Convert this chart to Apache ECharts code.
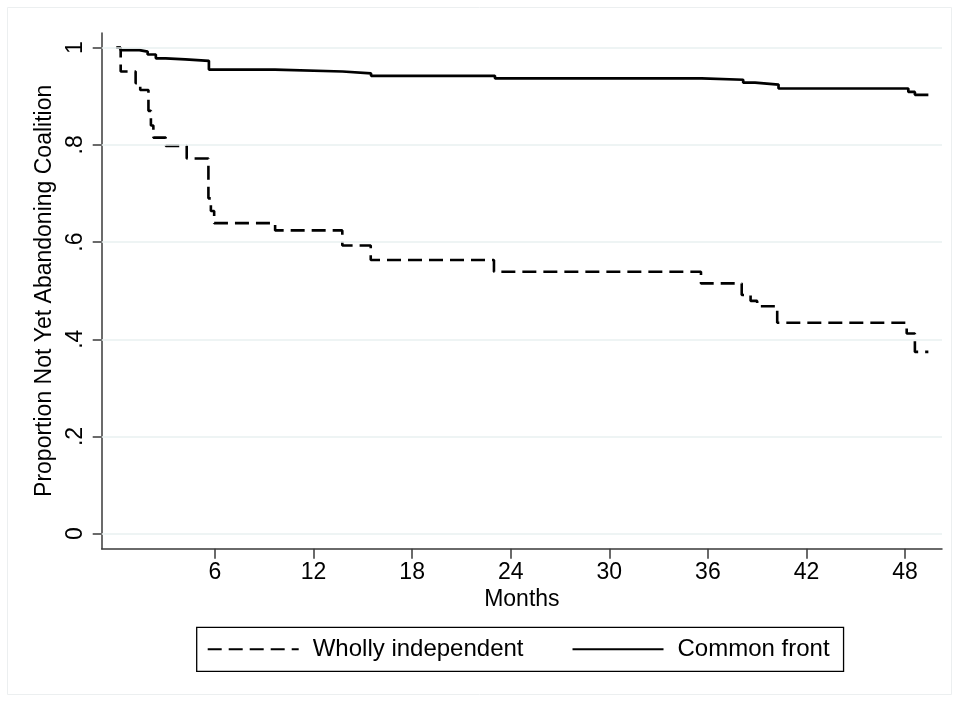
<!DOCTYPE html>
<html>
<head>
<meta charset="utf-8">
<script src="https://cdn.jsdelivr.net/npm/echarts@6/dist/echarts.min.js"></script>
<style>
  html, body { margin: 0; padding: 0; background: #fff; }
  #chart { width: 959px; height: 703px; }
</style>
</head>
<body>
<div id="chart"></div>
<script>
// Kaplan-Meier style step data (month of drop, proportion after drop)
var indepMonths = [0, 0.26, 1.17, 1.45, 1.95, 2.1, 2.25, 3.0, 4.28, 5.6, 5.75, 5.95, 9.66, 13.75, 15.48, 22.98, 35.58, 38.06, 38.6, 39.0, 40.22, 48.1, 48.6, 49.42];
var indepSurv   = [1, 0.951, 0.927, 0.913, 0.87, 0.84, 0.815, 0.798, 0.772, 0.69, 0.664, 0.639, 0.624, 0.593, 0.563, 0.539, 0.515, 0.491, 0.479, 0.468, 0.434, 0.412, 0.374, 0.374];

var frontMonths = [0, 0.25, 1.4, 1.9, 2.4, 3.0, 4.2, 5.63, 9.65, 13.77, 15.5, 23.04, 35.62, 38.15, 38.87, 40.3, 48.2, 48.6, 49.42];
var frontSurv   = [1, 0.995, 0.992, 0.986, 0.978, 0.976, 0.973, 0.955, 0.951, 0.947, 0.942, 0.937, 0.934, 0.928, 0.924, 0.916, 0.909, 0.903, 0.903];

var xTicks = [6, 12, 18, 24, 30, 36, 42, 48];
var yTicks = [0, 0.2, 0.4, 0.6, 0.8, 1];
var yTickLabels = ['0', '.2', '.4', '.6', '.8', '1'];

function pairs(xs, ys) {
    var out = [];
    for (var i = 0; i < xs.length; i++) {
        out.push([xs[i], ys[i]]);
    }
    return out;
}

var font = "'Liberation Sans', Arial, Helvetica, sans-serif";
var axisColor = '#3a3a3a';

var gridLines = [];
for (var i = 0; i < yTicks.length; i++) {
    gridLines.push({ yAxis: yTicks[i] });
}

var option = {
    animation: false,
    backgroundColor: '#fff',
    textStyle: { fontFamily: font },
    graphic: [{
        type: 'rect',
        shape: { x: 7.5, y: 7.5, width: 944, height: 687 },
        style: { fill: 'none', stroke: '#eceff0', lineWidth: 1 },
        silent: true,
        z: -10
    }],
    grid: {
        left: 101.7,
        right: 17,
        top: 33,
        bottom: 154.3
    },
    legend: {
        data: ['Wholly independent', 'Common front'],
        left: 196.7,
        top: 627.3,
        orient: 'horizontal',
        selectedMode: false,
        borderColor: '#000',
        borderWidth: 1.3,
        borderRadius: 0,
        padding: [10, 14, 10, 10],
        itemWidth: 91,
        itemHeight: 14,
        itemGap: 48,
        itemStyle: { opacity: 0 },
        textStyle: {
            fontFamily: font,
            fontSize: 24,
            color: '#000',
            padding: [0, 0, 0, 9]
        }
    },
    xAxis: {
        type: 'value',
        min: -0.895,
        max: 50.25,
        name: 'Months',
        nameLocation: 'middle',
        nameGap: 39,
        nameTextStyle: { fontFamily: font, fontSize: 23, color: '#000' },
        axisLine: { show: true, onZero: false, lineStyle: { color: axisColor, width: 1.5 } },
        axisTick: { show: true, length: 10, customValues: xTicks, lineStyle: { color: axisColor, width: 1.5 } },
        axisLabel: { customValues: xTicks, margin: 12, fontFamily: font, fontSize: 23, color: '#000' },
        splitLine: { show: false }
    },
    yAxis: {
        type: 'value',
        min: -0.0309,
        max: 1.0302,
        name: 'Proportion Not Yet Abandoning Coalition',
        nameLocation: 'middle',
        nameGap: 42,
        nameTextStyle: { fontFamily: font, fontSize: 23, color: '#000' },
        axisLine: { show: true, onZero: false, lineStyle: { color: axisColor, width: 1.5 } },
        axisTick: { show: true, length: 9, customValues: yTicks, lineStyle: { color: axisColor, width: 1.5 } },
        axisLabel: {
            customValues: yTicks,
            rotate: 90,
            margin: 15,
            fontFamily: font,
            fontSize: 23,
            color: '#000',
            formatter: function (v) {
                for (var k = 0; k < yTicks.length; k++) {
                    if (Math.abs(yTicks[k] - v) < 1e-6) return yTickLabels[k];
                }
                return '';
            }
        },
        splitLine: { show: false }
    },
    series: [
        {
            name: 'gridlines',
            type: 'line',
            data: [],
            z: 1,
            silent: true,
            markLine: {
                silent: true,
                symbol: 'none',
                label: { show: false },
                lineStyle: { color: '#e9f1f1', width: 1.6, type: 'solid' },
                data: gridLines
            }
        },
        {
            name: 'Wholly independent',
            type: 'line',
            step: 'end',
            symbol: 'none',
            showSymbol: false,
            z: 3,
            lineStyle: { color: '#000', width: 2.6, type: [14, 7] },
            itemStyle: { color: '#000' },
            data: pairs(indepMonths, indepSurv)
        },
        {
            name: 'Common front',
            type: 'line',
            step: 'end',
            symbol: 'none',
            showSymbol: false,
            z: 3,
            lineStyle: { color: '#000', width: 2.7, type: 'solid' },
            itemStyle: { color: '#000' },
            data: pairs(frontMonths, frontSurv)
        }
    ]
};

var myChart = echarts.init(document.getElementById('chart'));
myChart.setOption(option);
</script>
</body>
</html>
